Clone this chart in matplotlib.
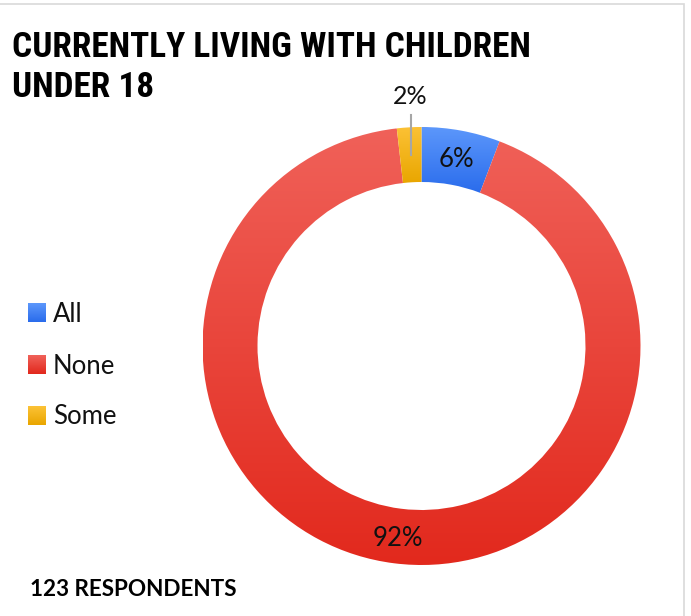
import matplotlib
matplotlib.use('Agg')
from matplotlib import pyplot as plt
from matplotlib.colors import LinearSegmentedColormap
import numpy as np

# data
categories = ['All', 'None', 'Some']
shares = [5.8, 92.4, 1.8]          # percent of respondents
n_respondents = 123
titleLines = ['CURRENTLY LIVING WITH CHILDREN', 'UNDER 18']

# colours (top -> bottom of each shape's gradient)
grad = {
  'All':  ('#5c97fb', '#2a6cec'),
  'None': ('#f06159', '#e2291d'),
  'Some': ('#fcc236', '#e9a600'),
}

boldFont = ['Liberation Sans Narrow', 'Roboto Condensed', 'Roboto', 'DejaVu Sans']
textFont = ['Lato', 'DejaVu Sans']

W, H = 691, 616
fig = plt.figure(figsize=(W/100., H/100.), dpi=100)
renderer = fig.canvas.get_renderer()

def fit_width(txt, width, start, cap):
  # scale a text's font size so that it spans the given width in pixels
  txt.set_fontsize(start)
  tw = txt.get_window_extent(renderer).width
  size = min(cap, start*width/tw)
  txt.set_fontsize(size)
  return size

# thin chart border
border = fig.add_axes([0, 0, 1, 1])
border.set_xlim(0, W)
border.set_ylim(H, 0)
border.axis('off')
border.add_patch(plt.Rectangle((-2, 4), 686, 620, fill=False, ec='#d9d9d9', lw=1.2))

#-------------------------------------
# donut
#-------------------------------------
cx, cy, R = 421.5, 346., 219.
ax = fig.add_axes([(cx-R)/W, (H-cy-R)/H, 2*R/W, 2*R/H])
ringWidth = 55./R
wedges, _ = ax.pie(shares, startangle=90, counterclock=False, radius=1.,
                   wedgeprops=dict(width=ringWidth, linewidth=0))
ax.set_xlim(-1, 1)
ax.set_ylim(-1, 1)
ax.set_aspect('equal')
ax.axis('off')

for w, cat in zip(wedges, categories):
  w.set_facecolor('none')
  bb = w.get_path().get_extents(w.get_transform() - ax.transData)
  cmap = LinearSegmentedColormap.from_list(cat, [grad[cat][1], grad[cat][0]])
  g = np.linspace(0, 1, 256).reshape(-1, 1)
  im = ax.imshow(g, cmap=cmap, origin='lower', aspect='auto',
                 extent=[bb.x0, bb.x1, bb.y0, bb.y1], zorder=1)
  im.set_clip_path(w)
ax.set_xlim(-1, 1)
ax.set_ylim(-1, 1)

# data labels
rMid = 1. - ringWidth/2.
for w, cat, s in zip(wedges, categories, shares):
  mid = np.deg2rad((w.theta1 + w.theta2)/2.)
  lab = '%d%%' % round(s)
  if s < 3:
    x0 = rMid*np.cos(mid)
    ax.plot([x0, x0], [0.87, 1.055], color='#a6a6a6', lw=1.5, zorder=3, clip_on=False)
    ax.text(x0, 1.085, lab, ha='center', va='bottom', fontsize=18, family=textFont,
            color='#111111', zorder=4, clip_on=False)
  else:
    ax.text(rMid*np.cos(mid), rMid*np.sin(mid)-0.01, lab, ha='center', va='center',
            fontsize=18.5, family=textFont, color='#111111', zorder=4)

#-------------------------------------
# title, legend, footer
#-------------------------------------
# fit the title's first line to the width it has in the original (518 px)
t1 = fig.text(12./W, 1-57./H, titleLines[0], ha='left', va='baseline',
              fontweight='bold', family=boldFont)
titleSize = fit_width(t1, 518., 22., 27.)
fig.text(12./W, 1-97./H, titleLines[1], ha='left', va='baseline', fontsize=titleSize,
         fontweight='bold', family=boldFont)

legendY = [313, 365, 416]
for cat, ly in zip(categories, legendY):
  cmap = LinearSegmentedColormap.from_list(cat+'_leg', [grad[cat][1], grad[cat][0]])
  border.imshow(np.linspace(0, 1, 32).reshape(-1, 1), cmap=cmap, origin='lower',
                aspect='auto', extent=[28, 46, ly+9.5, ly-9.5], zorder=2)
  border.text(53, ly+1, cat, ha='left', va='center', fontsize=18.5, family=textFont,
              color='#111111')
border.set_xlim(0, W)
border.set_ylim(H, 0)

foot = fig.text(30./W, 1-596./H, '%d RESPONDENTS' % n_respondents, ha='left',
                va='baseline', fontweight='bold', family=textFont)
fit_width(foot, 208., 14., 17.)

plt.savefig('out.png', dpi=100)
